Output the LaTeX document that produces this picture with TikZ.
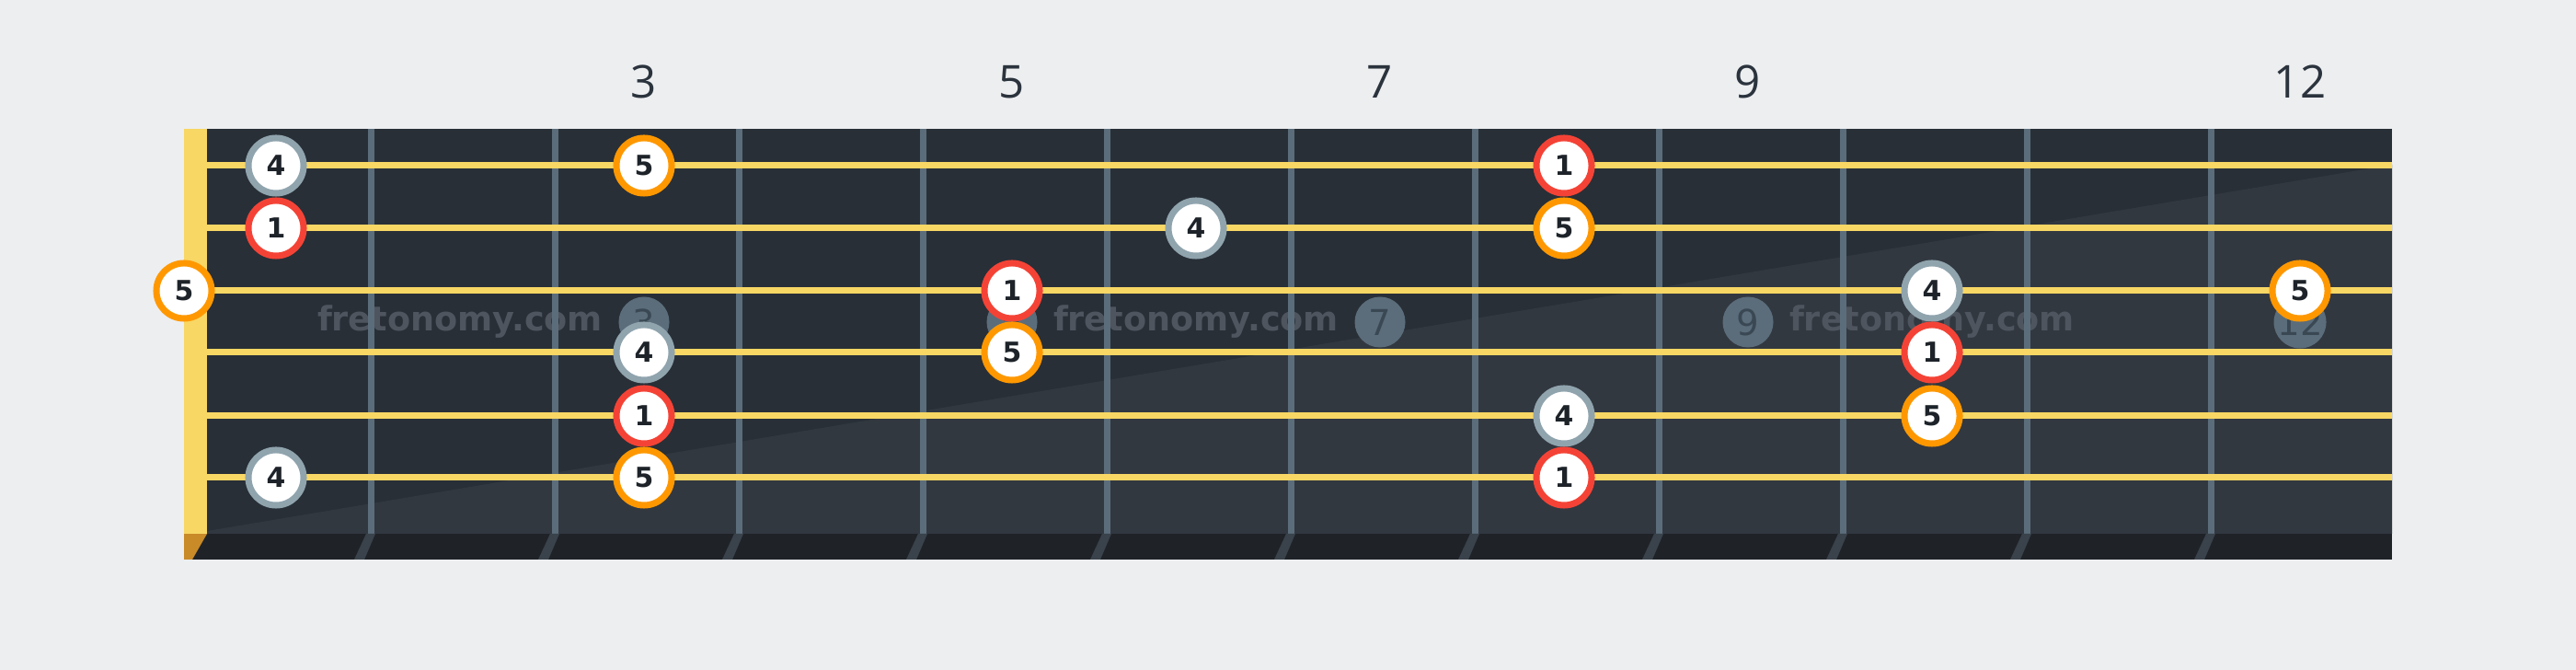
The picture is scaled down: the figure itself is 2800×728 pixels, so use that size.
\documentclass[tikz,border=0pt]{standalone}
\usepackage{fontspec}
\setmainfont{DejaVu Sans}
\newfontfamily\fretfont{Open Sans}
\definecolor{pagebg}{HTML}{EDEEF0}
\definecolor{boarddark}{HTML}{282F37}
\definecolor{boardlight}{HTML}{323840}
\definecolor{stringcol}{HTML}{F8D764}
\definecolor{fretcol}{HTML}{5B6D7B}
\definecolor{fretshade}{HTML}{3A424B}
\definecolor{barcol}{HTML}{1F2328}
\definecolor{nutshadow}{HTML}{C98A28}
\definecolor{rootred}{HTML}{F44336}
\definecolor{fifthorange}{HTML}{FF9800}
\definecolor{fourthgrey}{HTML}{90A4AE}
\definecolor{notetext}{HTML}{1D2329}
\definecolor{labelcol}{HTML}{2B333D}
\definecolor{inlaytext}{HTML}{3A4854}
\definecolor{markcol}{HTML}{4E555E}

\begin{document}
\begin{tikzpicture}[
        x=0.01cm,y=-0.01cm,
        note/.style={circle,fill=white,line width=0.07cm,minimum size=0.6cm,inner sep=0pt,text=notetext,font=\bfseries\fontsize{8.5}{8.5}\selectfont},
        root/.style={note,draw=rootred},
        fifth/.style={note,draw=fifthorange},
        fourth/.style={note,draw=fourthgrey},
        inlay/.style={circle,fill=fretcol,minimum size=0.55cm,inner sep=0pt,text=inlaytext,font=\fontsize{11}{11}\selectfont},
        fretnum/.style={text=labelcol,font=\fretfont\fontsize{14}{14}\selectfont},
        stamp/.style={text=markcol,font=\bfseries\fontsize{10.4}{10.4}\selectfont},
        gstring/.style={stringcol,line width=0.07cm}
    ]
    \useasboundingbox (0,0) rectangle (2800,728);
    \fill[pagebg] (0,0) rectangle (2800,728);

    \fill[boarddark] (200,140) rectangle (2600,580);
    \fill[boardlight] (225,577) -- (2600,179) -- (2600,580) -- (225,580) -- cycle;
    \fill[barcol] (200,580) rectangle (2600,608);
    \fill[nutshadow] (200,580) -- (225,580) -- (209,608) -- (200,608) -- cycle;
    \fill[stringcol] (200,140) rectangle (225,580);

    \node[stamp] (mark1) at (500,350) {fretonomy.com};
    \node[stamp] (mark2) at (1300,350) {fretonomy.com};
    \node[stamp] (mark3) at (2100,350) {fretonomy.com};

    \foreach \f in {1,...,11} {
        \fill[fretcol] ({200+200*\f},140) rectangle ({207+200*\f},580);
        \fill[fretshade] ({198+200*\f},580) -- ({208+200*\f},580) -- ({196+200*\f},608) -- ({185+200*\f},608) -- cycle;
    }

    \foreach \y in {180,248,316,383,452,519}
        \draw[gstring] (225,\y) -- (2600,\y);

    \foreach \f in {3,5,7,9,12} {
        \node[inlay] (dot\f) at ({100+200*\f},350) {\f};
        \node[fretnum] (num\f) at ({100+200*\f},89) {\f};
    }

    \node[fourth] (s1f1) at (300,180) {4};
    \node[fifth] (s1f3) at (700,180) {5};
    \node[root] (s1f8) at (1700,180) {1};
    \node[root] (s2f1) at (300,248) {1};
    \node[fourth] (s2f6) at (1300,248) {4};
    \node[fifth] (s2f8) at (1700,248) {5};
    \node[fifth] (s3f0) at (200,316) {5};
    \node[root] (s3f5) at (1100,316) {1};
    \node[fourth] (s3f10) at (2100,316) {4};
    \node[fifth] (s3f12) at (2500,316) {5};
    \node[fourth] (s4f3) at (700,383) {4};
    \node[fifth] (s4f5) at (1100,383) {5};
    \node[root] (s4f10) at (2100,383) {1};
    \node[root] (s5f3) at (700,452) {1};
    \node[fourth] (s5f8) at (1700,452) {4};
    \node[fifth] (s5f10) at (2100,452) {5};
    \node[fourth] (s6f1) at (300,519) {4};
    \node[fifth] (s6f3) at (700,519) {5};
    \node[root] (s6f8) at (1700,519) {1};
\end{tikzpicture}
\end{document}
